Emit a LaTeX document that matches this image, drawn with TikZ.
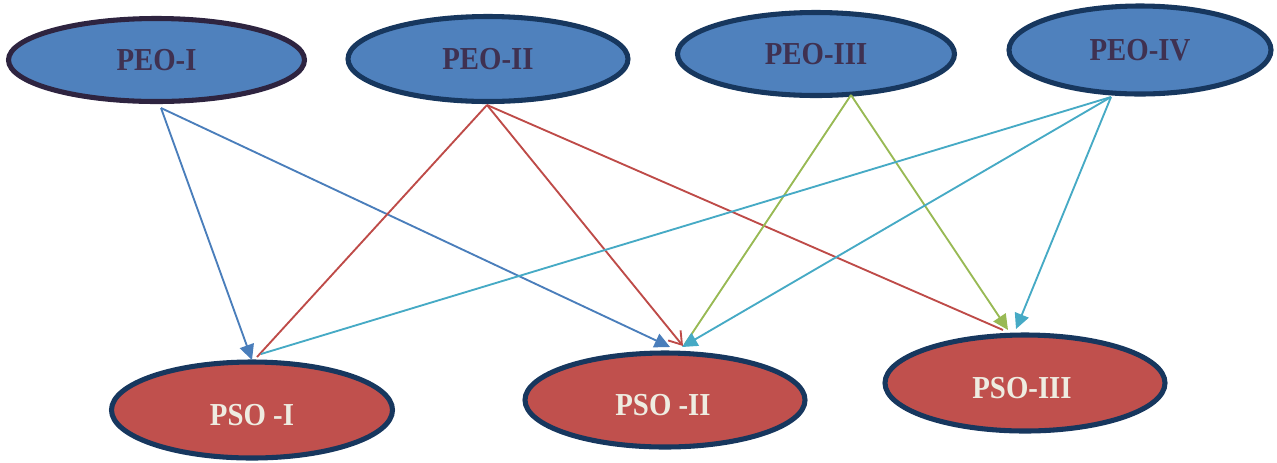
\documentclass[tikz,border=0pt]{standalone}
\usepackage{fontspec}
\setmainfont{Liberation Serif}
\newfontfamily\lblfont[FakeStretch=0.9]{Liberation Serif}
\usetikzlibrary{shapes.geometric,arrows.meta}
\definecolor{peofill}{HTML}{4F81BD}
\definecolor{psofill}{HTML}{C0504D}
\definecolor{navy}{HTML}{17375E}
\definecolor{darkpurple}{HTML}{2E2440}
\definecolor{peotext}{HTML}{3F3151}
\definecolor{psotext}{HTML}{EEECE1}
\definecolor{cblue}{HTML}{4A7EBB}
\definecolor{cred}{HTML}{BE4B48}
\definecolor{cgreen}{HTML}{98B954}
\definecolor{ccyan}{HTML}{46AAC5}
\tikzset{
  peo/.style={ellipse, draw=navy, fill=peofill, line width=3.8pt, inner sep=0pt,
    font=\lblfont\fontsize{24}{28}\selectfont\bfseries, text=peotext},
  pso/.style={ellipse, draw=navy, fill=psofill, line width=3.8pt, inner sep=0pt},
  psolabel/.style={inner sep=0pt, font=\lblfont\fontsize{24}{28}\selectfont\bfseries, text=psotext},
  conn/.style={line width=1.4pt},
  filledtip/.style={-{Triangle[length=11.5pt,width=11pt]}},
  opentip/.style={-{Straight Barb[length=9pt,width=12pt,line width=1.4pt]}}
}
\begin{document}
\begin{tikzpicture}[x=0.75pt,y=-0.75pt]
\useasboundingbox (0,0) rectangle (1277,462);
% top ellipses
\node[peo, draw=darkpurple, minimum width=296*0.75pt, minimum height=83*0.75pt] (peo1) at (156.5,60) {PEO-I};
\node[peo, minimum width=280*0.75pt, minimum height=85*0.75pt] (peo2) at (488,59) {PEO-II};
\node[peo, minimum width=277*0.75pt, minimum height=83*0.75pt] (peo3) at (816,54) {PEO-III};
\node[peo, minimum width=262*0.75pt, minimum height=88*0.75pt] (peo4) at (1140,50) {PEO-IV};
% bottom ellipses
\node[pso, minimum width=281*0.75pt, minimum height=96*0.75pt] (pso1) at (252,410) {};
\node[pso, minimum width=280*0.75pt, minimum height=94*0.75pt] (pso2) at (665,400) {};
\node[pso, minimum width=280*0.75pt, minimum height=96*0.75pt] (pso3) at (1025,383) {};
\node[psolabel] (pso1t) at ([shift={(0,5)}]pso1.center) {PSO -I};
\node[psolabel] (pso2t) at ([shift={(-2,5)}]pso2.center) {PSO -II};
\node[psolabel] (pso3t) at ([shift={(-3,5)}]pso3.center) {PSO-III};
% connectors from PEO-I
\draw[conn, cblue, filledtip] ([shift={(4.5,48)}]peo1.center) -- ([shift={(0,-50)}]pso1.center);
\draw[conn, cblue, filledtip] ([shift={(4.5,48)}]peo1.center) -- ([shift={(5,-53)}]pso2.center);
% connectors from PEO-II
\draw[conn, cred] ([shift={(-1,46)}]peo2.center) -- ([shift={(5,-53)}]pso1.center);
\draw[conn, cred, opentip] ([shift={(-1,46)}]peo2.center) -- ([shift={(18,-54)}]pso2.center);
\draw[conn, cred] ([shift={(-1,46)}]peo2.center) -- ([shift={(-22,-53)}]pso3.center);
% connectors from PEO-III
\draw[conn, cgreen] ([shift={(35,41)}]peo3.center) -- ([shift={(20,-56)}]pso2.center);
\draw[conn, cgreen, filledtip] ([shift={(35,41)}]peo3.center) -- ([shift={(-17,-53)}]pso3.center);
% connectors from PEO-IV
\draw[conn, ccyan] ([shift={(-29,47)}]peo4.center) -- ([shift={(9,-56)}]pso1.center);
\draw[conn, ccyan, filledtip] ([shift={(-29,47)}]peo4.center) -- ([shift={(17,-53)}]pso2.center);
\draw[conn, ccyan, filledtip] ([shift={(-29,47)}]peo4.center) -- ([shift={(-9,-54)}]pso3.center);
\end{tikzpicture}
\end{document}
